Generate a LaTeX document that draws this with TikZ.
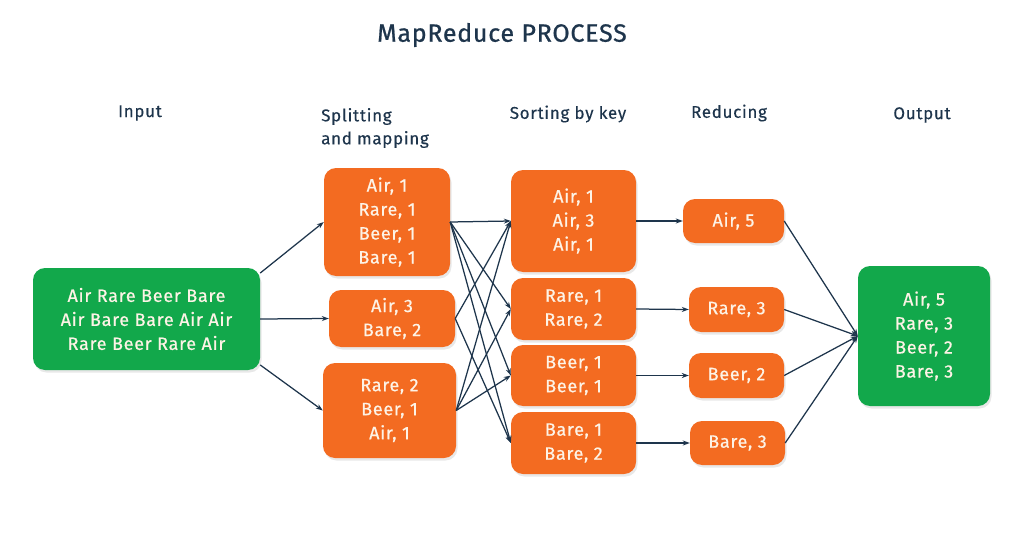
\documentclass[tikz,border=0pt]{standalone}
\usepackage{fontspec}
\setmainfont{Fira Sans}
\newfontfamily\boxfont{Fira Sans}[LetterSpace=4, FakeBold=0.6]
\newfontfamily\hdrfont{Fira Sans}[LetterSpace=4, FakeBold=0.3]
\newfontfamily\titlefont{Fira Sans}[LetterSpace=3, FakeBold=0.8]
\usetikzlibrary{arrows.meta,shadows}
\definecolor{org}{HTML}{F36B21}
\definecolor{grn}{HTML}{12A84B}
\definecolor{navy}{HTML}{1E354C}
\definecolor{txt}{HTML}{FDF3E6}
\begin{document}
\begin{tikzpicture}[x=1pt,y=-1pt,
  box/.style={rectangle, rounded corners=12pt, fill=org, text=txt, align=center, inner sep=0pt,
    font=\boxfont\fontsize{18}{24}\selectfont,
    drop shadow={opacity=0.18, shadow xshift=1.5pt, shadow yshift=-2.5pt}},
  gbox/.style={box, fill=grn},
  hdr/.style={text=navy, font=\hdrfont\fontsize{17}{23}\selectfont, inner sep=0pt},
  arr/.style={draw=navy, line width=1.25pt, -{Stealth[length=7pt,width=5pt]}}]
\useasboundingbox[fill=white] (0,0) rectangle (1025,559);

% title and headers
\node[hdr, font=\titlefont\fontsize{25}{28}\selectfont] (title) at (502,35) {MapReduce PROCESS};
\node[hdr] (hin) at (140,113) {Input};
\node[hdr, align=left, anchor=west] (hsplit) at (321,128) {Splitting\\and mapping};
\node[hdr] (hsort) at (568,114) {Sorting by key};
\node[hdr] (hred) at (729,113) {Reducing};
\node[hdr] (hout) at (922,115) {Output};

% input
\node[gbox, minimum width=227, minimum height=102] (in) at (146.5,319) {Air Rare Beer Bare\\Air Bare Bare Air Air\\Rare Beer Rare Air};

% splitting and mapping
\node[box, minimum width=126, minimum height=108] (s1) at (387,222) {Air, 1\\Rare, 1\\Beer, 1\\Bare, 1};
\node[box, minimum width=126, minimum height=57] (s2) at (392,318.5) {Air, 3\\Bare, 2};
\node[box, minimum width=133, minimum height=95] (s3) at (389.5,410.5) {Rare, 2\\Beer, 1\\Air, 1};

% sorting
\node[box, minimum width=125, minimum height=102] (k1) at (573.5,221) {Air, 1\\Air, 3\\Air, 1};
\node[box, minimum width=125, minimum height=62] (k2) at (573.5,309) {Rare, 1\\Rare, 2};
\node[box, minimum width=125, minimum height=61] (k3) at (573.5,375.5) {Beer, 1\\Beer, 1};
\node[box, minimum width=125, minimum height=62] (k4) at (573.5,443) {Bare, 1\\Bare, 2};

% reducing
\node[box, minimum width=101, minimum height=44] (r1) at (733.5,221) {Air, 5};
\node[box, minimum width=95, minimum height=45] (r2) at (736.5,309.5) {Rare, 3};
\node[box, minimum width=95, minimum height=45] (r3) at (736.5,375.5) {Beer, 2};
\node[box, minimum width=95, minimum height=44] (r4) at (737.5,443) {Bare, 3};

% output
\node[gbox, minimum width=132, minimum height=140] (out) at (924,336) {Air, 5\\Rare, 3\\Beer, 2\\Bare, 3};

% input -> splitting
\draw[arr] (in.22) -- (s1.west);
\draw[arr] (in.east) -- (s2.west);
\draw[arr] (in.-22) -- (s3.west);

% splitting -> sorting
\draw[arr] (s1.east) -- (k1.west);
\draw[arr] (s1.east) -- (k2.west);
\draw[arr] (s1.east) -- (k3.west);
\draw[arr] (s1.east) -- (k4.west);
\draw[arr] (s2.east) -- (k1.west);
\draw[arr] (s2.east) -- (k4.west);
\draw[arr] (s3.east) -- (k1.west);
\draw[arr] (s3.east) -- (k2.west);
\draw[arr] (s3.east) -- (k3.west);

% sorting -> reducing
\draw[arr] (k1.east) -- (r1.west);
\draw[arr] (k2.east) -- (r2.west);
\draw[arr] (k3.east) -- (r3.west);
\draw[arr] (k4.east) -- (r4.west);

% reducing -> output
\draw[arr] (r1.east) -- (out.west);
\draw[arr] (r2.east) -- (out.west);
\draw[arr] (r3.east) -- (out.west);
\draw[arr] (r4.east) -- (out.west);
\end{tikzpicture}
\end{document}
